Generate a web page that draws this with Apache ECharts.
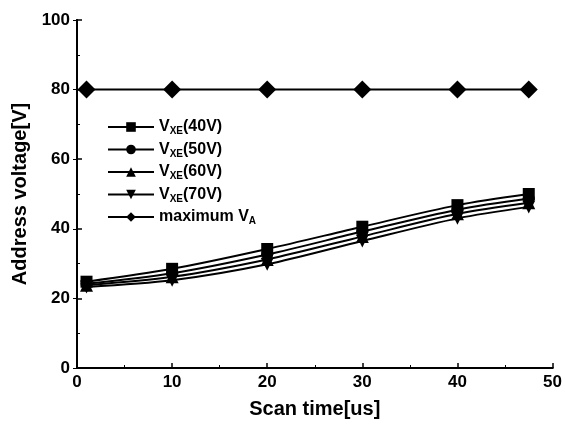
<!DOCTYPE html>
<html><head><meta charset="utf-8">
<script src="https://cdn.jsdelivr.net/npm/echarts@6/dist/echarts.min.js"></script>
<style>html,body{margin:0;padding:0;background:#fff}#c{width:565px;height:425px}</style>
</head><body><div id="c"></div>
<script>
const scanTime = [1, 10, 20, 30, 40, 47.5];
const vxe40 = [24.8, 28.5, 34.2, 40.6, 46.8, 50.0];
const vxe50 = [24.2, 27.2, 32.6, 39.2, 45.5, 48.7];
const vxe60 = [23.8, 26.2, 31.2, 37.8, 44.3, 47.5];
const vxe70 = [23.3, 25.2, 29.8, 36.5, 43.0, 46.3];
const maxVA = [80, 80, 80, 80, 80, 80];
const seriesNames = ['VXE(40V)', 'VXE(50V)', 'VXE(60V)', 'VXE(70V)', 'maximum VA'];
const legendLabels = {
  'VXE(40V)': '{m|V}{s|XE}{m|(40V)}',
  'VXE(50V)': '{m|V}{s|XE}{m|(50V)}',
  'VXE(60V)': '{m|V}{s|XE}{m|(60V)}',
  'VXE(70V)': '{m|V}{s|XE}{m|(70V)}',
  'maximum VA': '{m|maximum V}{s|A}'
};

const font = 'Liberation Sans, Arial, sans-serif';
const pair = arr => scanTime.map((x, i) => [x, arr[i]]);
const mk = (name, data, symbol, size, rot) => ({
  name, type: 'line', data: pair(data), smooth: 0.3,
  symbol, symbolSize: size, symbolRotate: rot || 0,
  lineStyle: { color: '#000', width: 2 },
  itemStyle: { color: '#000' }
});

const chart = echarts.init(document.getElementById('c'));
chart.setOption({
  animation: false,
  grid: { left: 77, right: 9, top: 20, bottom: 57 },
  legend: {
    orient: 'vertical', left: 102, top: 114,
    itemWidth: 46, itemHeight: 12, itemGap: 5,
    data: seriesNames,
    formatter: n => legendLabels[n],
    textStyle: {
      fontFamily: font, fontWeight: 'bold', color: '#000',
      rich: {
        m: { fontSize: 16, fontWeight: 'bold', fontFamily: font, color: '#000' },
        s: { fontSize: 10, fontWeight: 'bold', fontFamily: font, color: '#000', padding: [9, 0, 0, 0] }
      }
    }
  },
  xAxis: [{
    type: 'value', min: 0, max: 50, interval: 10,
    name: 'Scan time[us]', nameLocation: 'middle', nameGap: 31,
    nameTextStyle: { fontFamily: font, fontWeight: 'bold', fontSize: 20, color: '#000' },
    axisLine: { lineStyle: { color: '#000', width: 2 } },
    axisTick: { inside: true, length: 5, lineStyle: { color: '#000', width: 1.5 } },
    minorTick: { show: true, splitNumber: 2, length: 3, lineStyle: { color: '#000' } },
    axisLabel: { fontFamily: font, fontWeight: 'bold', fontSize: 17, color: '#000', margin: 6 },
    splitLine: { show: false }
  }, {
    type: 'value', min: 0, max: 50, interval: 10, position: 'top',
    axisLine: { lineStyle: { color: '#000', width: 2 } },
    axisTick: { show: false }, axisLabel: { show: false }, splitLine: { show: false }
  }],
  yAxis: [{
    type: 'value', min: 0, max: 100, interval: 20,
    name: 'Address voltage[V]', nameLocation: 'middle', nameGap: 46,
    nameTextStyle: { fontFamily: font, fontWeight: 'bold', fontSize: 20, color: '#000' },
    axisLine: { lineStyle: { color: '#000', width: 2 } },
    axisTick: { inside: true, length: 5, lineStyle: { color: '#000', width: 1.5 } },
    minorTick: { show: true, splitNumber: 2, length: 3, lineStyle: { color: '#000' } },
    axisLabel: { fontFamily: font, fontWeight: 'bold', fontSize: 17, color: '#000', margin: 7 },
    splitLine: { show: false }
  }, {
    type: 'value', min: 0, max: 100, interval: 20, position: 'right',
    axisLine: { show: true, lineStyle: { color: '#000', width: 2 } },
    axisTick: { inside: true, length: 4, lineStyle: { color: '#000' } },
    axisLabel: { show: false }, splitLine: { show: false }
  }],
  series: [
    mk(seriesNames[0], vxe40, 'rect', 12),
    mk(seriesNames[1], vxe50, 'circle', 12),
    mk(seriesNames[2], vxe60, 'triangle', 13),
    mk(seriesNames[3], vxe70, 'triangle', 13, 180),
    mk(seriesNames[4], maxVA, 'diamond', 18)
  ]
});
</script></body></html>
